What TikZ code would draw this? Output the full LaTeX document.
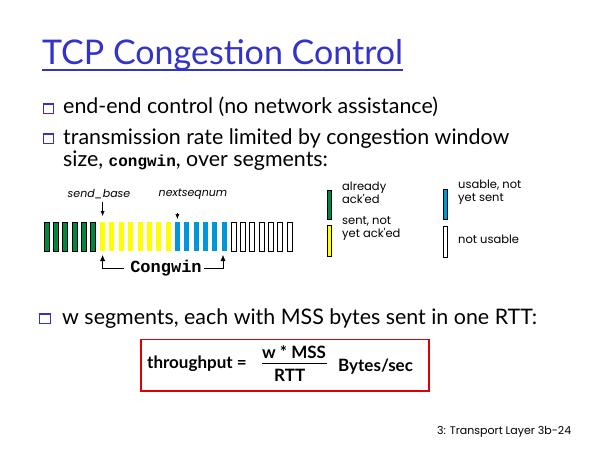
\documentclass[tikz,border=0pt]{standalone}
\usepackage{fontspec}
\setmainfont{Lato}
\newfontfamily\legendfont{Poppins}
\newfontfamily\codefont{Liberation Mono}
\usetikzlibrary{positioning,arrows.meta}

\definecolor{titleblue}{RGB}{51,51,204}
\definecolor{ackgreen}{RGB}{0,136,64}
\definecolor{sentyellow}{RGB}{255,255,0}
\definecolor{usableblue}{RGB}{0,150,220}
\definecolor{boxred}{RGB}{225,0,0}

\tikzset{
    bullettext/.style={anchor=base west, inner sep=0pt, font=\fontsize{21.4}{24}\selectfont},
    legendtext/.style={anchor=base west, align=left, inner sep=0pt, font=\legendfont\fontsize{11.5}{12.5}\selectfont},
    seglabel/.style={anchor=base, inner sep=0pt, font=\legendfont\itshape\fontsize{11}{12}\selectfont},
    mathtext/.style={anchor=base west, inner sep=0pt, font=\bfseries\fontsize{17}{20}\selectfont},
    bulletbox/.style={draw=titleblue, line width=1pt},
}

\begin{document}
\begin{tikzpicture}[x=1pt, y=-1pt]
    \useasboundingbox (0,0) rectangle (600,450);

    % Title
    \node [anchor=base west, inner sep=0pt, text=titleblue, font=\fontsize{34}{38}\selectfont] (title) at (42,64) {TCP Congestion Control};
    \draw [titleblue, line width=1.6pt] ([yshift=-6pt]title.base west) -- ([yshift=-6pt]title.base east);

    % Bullets
    \draw [bulletbox] (43,103) rectangle (53,113);
    \draw [bulletbox, line width=2.2pt] (43,104) -- (53,104);
    \node [bullettext] (line1) at (63,113) {end-end control (no network assistance)};
    \draw [bulletbox] (43,133) rectangle (53,143);
    \draw [bulletbox, line width=2.2pt] (43,134) -- (53,134);
    \node [bullettext] (line2) at (63,144) {transmission rate limited by congestion window};
    \node [bullettext] (line3) at (63,166) {size, {\codefont\bfseries\fontsize{16}{18}\selectfont congwin}, over segments:};

    % Segments
    \foreach \i in {0,...,5}
        \filldraw [fill=ackgreen, draw=black, line width=0.6pt] ({44+9.35*\i},222) rectangle ++(5,29);
    \foreach \i in {6,...,13}
        \fill [sentyellow] ({44+9.35*\i},222) rectangle ++(5,29);
    \foreach \i in {14,...,19}
        \fill [usableblue] ({44+9.35*\i},222) rectangle ++(5,29);
    \foreach \i in {20,...,26}
        \draw [black, line width=0.6pt] ({44+9.35*\i},222) rectangle ++(5,29);

    % send_base and nextseqnum
    \node [seglabel] (sendbase) at (99,197) {send\_base};
    \coordinate (sbtip) at (102.6,216);
    \draw [-{Latex[length=5pt,width=4pt]}] ([yshift=-3pt]sendbase.south -| sbtip) -- (sbtip);
    \node [seglabel] (nextseq) at (193,196) {nextseqnum};
    \coordinate (nstip) at (177.4,219);
    \draw [-{Latex[length=5pt,width=4pt]}] (177.4,213) -- (nstip);

    % Congwin
    \node [anchor=base, inner sep=0pt, font=\codefont\bfseries\fontsize{17}{20}\selectfont] (congwin) at (166,272) {Congwin};
    \coordinate (cwleft) at (102.6,255);
    \coordinate (cwright) at (223,255);
    \draw [-{Latex[length=6pt,width=5pt]}] ([xshift=-6pt,yshift=-1pt]congwin.west) -| (cwleft);
    \draw [-{Latex[length=6pt,width=5pt]}] ([xshift=2pt,yshift=-1pt]congwin.east) -| (cwright);

    % Legend
    \filldraw [fill=ackgreen, draw=black, line width=0.6pt] (327.5,190) rectangle (331.5,219);
    \node [legendtext] (ackd) at (342,203) {already\\ack'ed};
    \filldraw [fill=sentyellow, draw=black, line width=0.6pt] (327.5,225) rectangle (331.5,256);
    \node [legendtext] (sent) at (342,237) {sent, not\\yet ack'ed};
    \filldraw [fill=usableblue, draw=black, line width=0.6pt] (443,189) rectangle (447,219);
    \node [legendtext] (usable) at (458,201) {usable, not\\yet sent};
    \draw [black, line width=0.6pt] (443,226) rectangle (447,257);
    \node [legendtext] (notusable) at (458,243) {not usable};

    % Throughput
    \draw [bulletbox] (39,313) rectangle (50,323);
    \draw [bulletbox, line width=2.2pt] (39,314) -- (50,314);
    \node [bullettext] (line4) at (62,324) {w segments, each with MSS bytes sent in one RTT:};
    \draw [draw=boxred, line width=1.2pt] (141,339.5) rectangle (429,391);
    \node [mathtext] (thru) at (147,368) {throughput =};
    \node [mathtext] (num) at (262,358) {w * MSS};
    \node [mathtext] (den) at (274,381) {RTT};
    \draw [line width=0.8pt] (262,363) -- (327,363);
    \node [mathtext] (units) at (338,371) {Bytes/sec};

    % Footer
    \node [anchor=base west, inner sep=0pt, font=\legendfont\fontsize{11}{12}\selectfont] (footer) at (437,434) {3: Transport Layer 3b-24};
\end{tikzpicture}
\end{document}
